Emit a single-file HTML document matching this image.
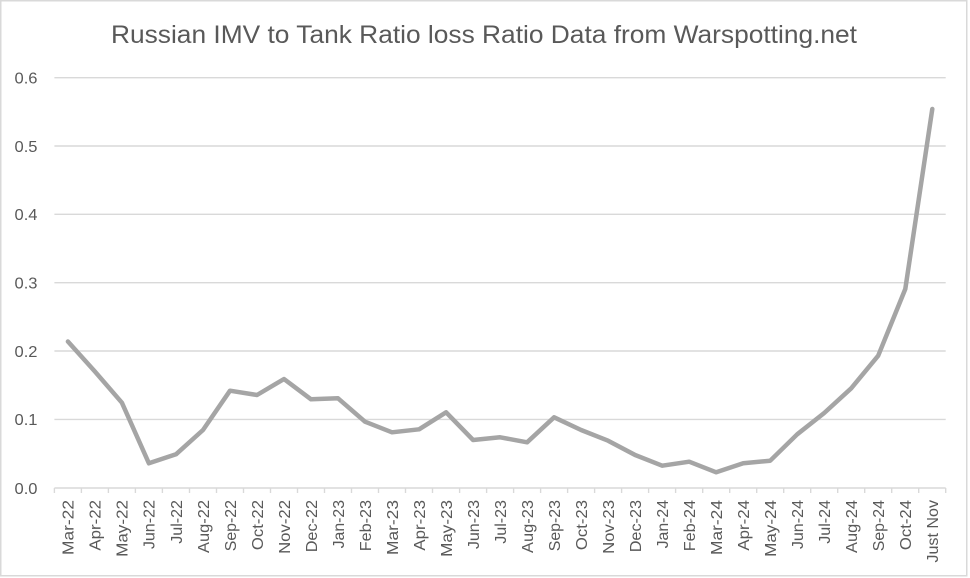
<!DOCTYPE html>
<html>
<head>
<meta charset="utf-8">
<style>
html,body{margin:0;padding:0;background:#fff;}
svg{display:block;}
text{font-family:"Liberation Sans",Arial,sans-serif;fill:#595959;}
</style>
</head>
<body>
<svg width="970" height="578" viewBox="0 0 970 578" xmlns="http://www.w3.org/2000/svg">
<rect x="0" y="0" width="970" height="578" fill="#fff"/>
<rect x="0.75" y="0.75" width="966" height="575" fill="none" stroke="#D9D9D9" stroke-width="1.5"/>

<text x="111" y="43" font-size="25" textLength="746" lengthAdjust="spacingAndGlyphs">Russian IMV to Tank Ratio loss Ratio Data from Warspotting.net</text>

<g stroke="#D9D9D9" stroke-width="1.4">
<line x1="54.4" y1="77.7" x2="945.7" y2="77.7"/>
<line x1="54.4" y1="146" x2="945.7" y2="146"/>
<line x1="54.4" y1="214.3" x2="945.7" y2="214.3"/>
<line x1="54.4" y1="282.7" x2="945.7" y2="282.7"/>
<line x1="54.4" y1="351" x2="945.7" y2="351"/>
<line x1="54.4" y1="419.4" x2="945.7" y2="419.4"/>
<line x1="54.4" y1="488" x2="945.7" y2="488"/>
</g>
<g stroke="#D9D9D9" stroke-width="1.4" id="ticks"></g>

<g font-size="16" text-anchor="end">
<text x="37.5" y="83.5" textLength="23" lengthAdjust="spacingAndGlyphs">0.6</text>
<text x="37.5" y="151.8" textLength="23" lengthAdjust="spacingAndGlyphs">0.5</text>
<text x="37.5" y="220.1" textLength="23" lengthAdjust="spacingAndGlyphs">0.4</text>
<text x="37.5" y="288.5" textLength="23" lengthAdjust="spacingAndGlyphs">0.3</text>
<text x="37.5" y="356.8" textLength="23" lengthAdjust="spacingAndGlyphs">0.2</text>
<text x="37.5" y="425.2" textLength="23" lengthAdjust="spacingAndGlyphs">0.1</text>
<text x="37.5" y="493.8" textLength="23" lengthAdjust="spacingAndGlyphs">0.0</text>
</g>

<polyline fill="none" stroke="#A5A5A5" stroke-width="4.5" stroke-linejoin="round" stroke-linecap="round"
points="67.9,341.5 94.9,371.5 121.9,402.7 148.9,463.3 176.0,454.3 203.0,430 230.0,390.7 257.0,395 284.0,379 311.0,399.3 338.0,398.3 365.0,421.7 392.0,432.3 419.1,429.3 446.1,412.3 473.1,440 500.1,437.3 527.1,442.3 554.1,417.3 581.1,430 608.1,440.7 635.1,455 662.2,465.7 689.2,461.7 716.2,472.3 743.2,463.3 770.2,460.7 797.2,434.3 824.2,413 851.2,388.3 878.2,355.7 905.3,289 932.3,109"/>

<g stroke="#D9D9D9" stroke-width="1.4">
<line x1="54.4" y1="488" x2="54.4" y2="493"/>
<line x1="81.4" y1="488" x2="81.4" y2="493"/>
<line x1="108.4" y1="488" x2="108.4" y2="493"/>
<line x1="135.4" y1="488" x2="135.4" y2="493"/>
<line x1="162.4" y1="488" x2="162.4" y2="493"/>
<line x1="189.5" y1="488" x2="189.5" y2="493"/>
<line x1="216.5" y1="488" x2="216.5" y2="493"/>
<line x1="243.5" y1="488" x2="243.5" y2="493"/>
<line x1="270.5" y1="488" x2="270.5" y2="493"/>
<line x1="297.5" y1="488" x2="297.5" y2="493"/>
<line x1="324.5" y1="488" x2="324.5" y2="493"/>
<line x1="351.5" y1="488" x2="351.5" y2="493"/>
<line x1="378.5" y1="488" x2="378.5" y2="493"/>
<line x1="405.5" y1="488" x2="405.5" y2="493"/>
<line x1="432.5" y1="488" x2="432.5" y2="493"/>
<line x1="459.6" y1="488" x2="459.6" y2="493"/>
<line x1="486.6" y1="488" x2="486.6" y2="493"/>
<line x1="513.6" y1="488" x2="513.6" y2="493"/>
<line x1="540.6" y1="488" x2="540.6" y2="493"/>
<line x1="567.6" y1="488" x2="567.6" y2="493"/>
<line x1="594.6" y1="488" x2="594.6" y2="493"/>
<line x1="621.6" y1="488" x2="621.6" y2="493"/>
<line x1="648.6" y1="488" x2="648.6" y2="493"/>
<line x1="675.6" y1="488" x2="675.6" y2="493"/>
<line x1="702.7" y1="488" x2="702.7" y2="493"/>
<line x1="729.7" y1="488" x2="729.7" y2="493"/>
<line x1="756.7" y1="488" x2="756.7" y2="493"/>
<line x1="783.7" y1="488" x2="783.7" y2="493"/>
<line x1="810.7" y1="488" x2="810.7" y2="493"/>
<line x1="837.7" y1="488" x2="837.7" y2="493"/>
<line x1="864.7" y1="488" x2="864.7" y2="493"/>
<line x1="891.7" y1="488" x2="891.7" y2="493"/>
<line x1="918.7" y1="488" x2="918.7" y2="493"/>
<line x1="945.7" y1="488" x2="945.7" y2="493"/>
</g>

<g font-size="16" text-anchor="end" lengthAdjust="spacingAndGlyphs">
<text transform="translate(73.7,500) rotate(-90)" textLength="55" lengthAdjust="spacingAndGlyphs">Mar-22</text>
<text transform="translate(100.7,500) rotate(-90)" textLength="50.7" lengthAdjust="spacingAndGlyphs">Apr-22</text>
<text transform="translate(127.7,500) rotate(-90)" textLength="56.9" lengthAdjust="spacingAndGlyphs">May-22</text>
<text transform="translate(154.7,500) rotate(-90)" textLength="49.2" lengthAdjust="spacingAndGlyphs">Jun-22</text>
<text transform="translate(181.8,500) rotate(-90)" textLength="43.8" lengthAdjust="spacingAndGlyphs">Jul-22</text>
<text transform="translate(208.8,500) rotate(-90)" textLength="53" lengthAdjust="spacingAndGlyphs">Aug-22</text>
<text transform="translate(235.8,500) rotate(-90)" textLength="51.3" lengthAdjust="spacingAndGlyphs">Sep-22</text>
<text transform="translate(262.8,500) rotate(-90)" textLength="50.1" lengthAdjust="spacingAndGlyphs">Oct-22</text>
<text transform="translate(289.8,500) rotate(-90)" textLength="53.9" lengthAdjust="spacingAndGlyphs">Nov-22</text>
<text transform="translate(316.8,500) rotate(-90)" textLength="52.3" lengthAdjust="spacingAndGlyphs">Dec-22</text>
<text transform="translate(343.8,500) rotate(-90)" textLength="48.4" lengthAdjust="spacingAndGlyphs">Jan-23</text>
<text transform="translate(370.8,500) rotate(-90)" textLength="51.3" lengthAdjust="spacingAndGlyphs">Feb-23</text>
<text transform="translate(397.8,500) rotate(-90)" textLength="55" lengthAdjust="spacingAndGlyphs">Mar-23</text>
<text transform="translate(424.9,500) rotate(-90)" textLength="50.7" lengthAdjust="spacingAndGlyphs">Apr-23</text>
<text transform="translate(451.9,500) rotate(-90)" textLength="56.9" lengthAdjust="spacingAndGlyphs">May-23</text>
<text transform="translate(478.9,500) rotate(-90)" textLength="49.2" lengthAdjust="spacingAndGlyphs">Jun-23</text>
<text transform="translate(505.9,500) rotate(-90)" textLength="43.8" lengthAdjust="spacingAndGlyphs">Jul-23</text>
<text transform="translate(532.9,500) rotate(-90)" textLength="53" lengthAdjust="spacingAndGlyphs">Aug-23</text>
<text transform="translate(559.9,500) rotate(-90)" textLength="51.3" lengthAdjust="spacingAndGlyphs">Sep-23</text>
<text transform="translate(586.9,500) rotate(-90)" textLength="50.1" lengthAdjust="spacingAndGlyphs">Oct-23</text>
<text transform="translate(613.9,500) rotate(-90)" textLength="53.9" lengthAdjust="spacingAndGlyphs">Nov-23</text>
<text transform="translate(640.9,500) rotate(-90)" textLength="52.3" lengthAdjust="spacingAndGlyphs">Dec-23</text>
<text transform="translate(668,500) rotate(-90)" textLength="48.4" lengthAdjust="spacingAndGlyphs">Jan-24</text>
<text transform="translate(695,500) rotate(-90)" textLength="51.3" lengthAdjust="spacingAndGlyphs">Feb-24</text>
<text transform="translate(722,500) rotate(-90)" textLength="55" lengthAdjust="spacingAndGlyphs">Mar-24</text>
<text transform="translate(749,500) rotate(-90)" textLength="50.7" lengthAdjust="spacingAndGlyphs">Apr-24</text>
<text transform="translate(776,500) rotate(-90)" textLength="56.9" lengthAdjust="spacingAndGlyphs">May-24</text>
<text transform="translate(803,500) rotate(-90)" textLength="49.2" lengthAdjust="spacingAndGlyphs">Jun-24</text>
<text transform="translate(830,500) rotate(-90)" textLength="43.8" lengthAdjust="spacingAndGlyphs">Jul-24</text>
<text transform="translate(857,500) rotate(-90)" textLength="53" lengthAdjust="spacingAndGlyphs">Aug-24</text>
<text transform="translate(884,500) rotate(-90)" textLength="51.3" lengthAdjust="spacingAndGlyphs">Sep-24</text>
<text transform="translate(911.1,500) rotate(-90)" textLength="50.1" lengthAdjust="spacingAndGlyphs">Oct-24</text>
<text transform="translate(938.1,500) rotate(-90)" textLength="62.6" lengthAdjust="spacingAndGlyphs">Just Nov</text>
</g>
</svg>
</body>
</html>
